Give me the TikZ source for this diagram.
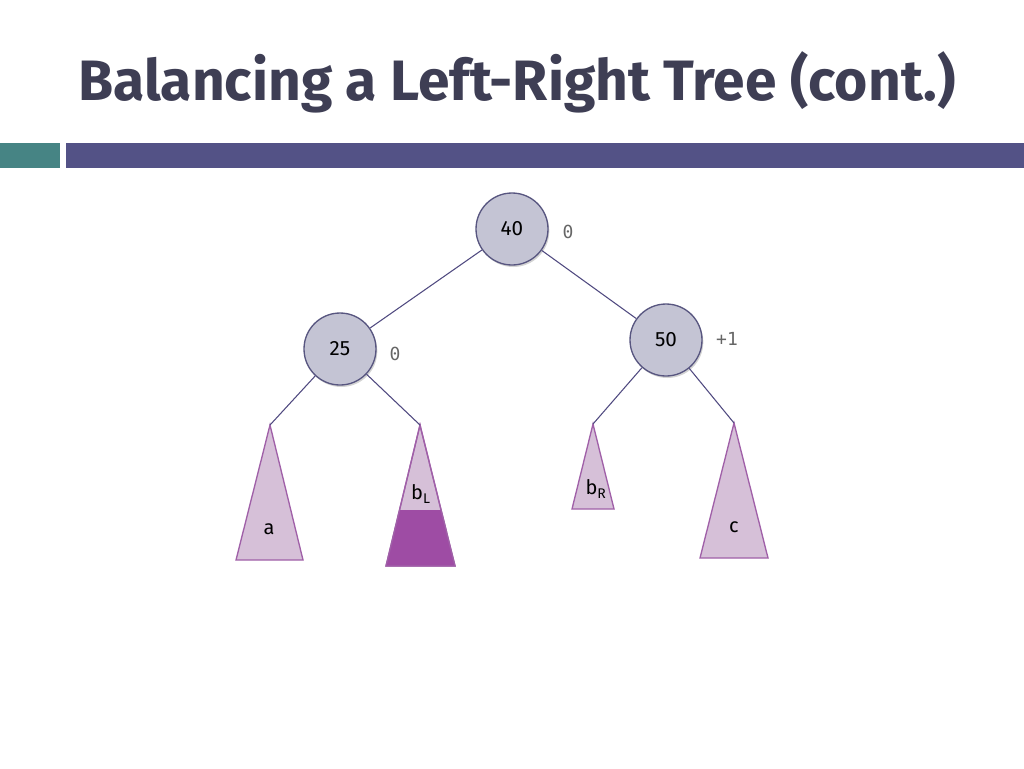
\documentclass[tikz,border=0pt]{standalone}
\usepackage{fontspec}
\setmainfont{Fira Sans}
\newfontfamily\balfont{DejaVu Sans Mono}
\usetikzlibrary{shadows}

\definecolor{titlegray}{RGB}{62,62,84}
\definecolor{barteal}{RGB}{70,132,132}
\definecolor{barpurple}{RGB}{83,82,134}
\definecolor{circfill}{RGB}{196,196,212}
\definecolor{circline}{RGB}{88,86,128}
\definecolor{edgeline}{RGB}{80,74,128}
\definecolor{trifill}{RGB}{214,192,216}
\definecolor{triline}{RGB}{160,96,168}
\definecolor{tridark}{RGB}{158,76,164}

\tikzset{every picture/.style={line width=0.75pt}}
\tikzset{
  keynode/.style={circle, draw=circline, fill=circfill, line width=1pt, minimum size=54pt, inner sep=0pt,
    drop shadow={shadow xshift=1pt, shadow yshift=-1.5pt, opacity=0.35}, font=\fontsize{15.5}{18}\selectfont},
  balance/.style={inner sep=0.75pt, text=black!60, font=\balfont\fontsize{13.5}{16}\selectfont},
  subtree/.style={draw=triline, fill=trifill, line width=1pt},
  treelabel/.style={inner sep=0.75pt, font=\fontsize{15}{18}\selectfont},
  edge/.style={draw=edgeline, line width=0.8pt}
}

\begin{document}
\begin{tikzpicture}[x=0.75pt,y=0.75pt,yscale=-1,xscale=1]
\useasboundingbox (0,0) rectangle (1024,768);

% Title
\node [text=titlegray, font=\bfseries\fontsize{42.7}{50}\selectfont, inner sep=0pt] (title) at (517,82) {Balancing a Left-Right Tree (cont.)};
% Bars
\fill [barteal] (0,143) rectangle (60,168);
\fill [barpurple] (66,143) rectangle (1024,168);

% Subtrees (apex coordinates)
\coordinate (apexa) at (270,425);
\coordinate (apexbl) at (420,425);
\coordinate (apexbr) at (593,424);
\coordinate (apexc) at (734,423);

\draw [subtree] (apexa) -- (303,560) -- (236,560) -- cycle;
\draw [subtree] (apexbl) -- (455,566) -- (386,566) -- cycle;
\fill [tridark] (399.5,510) -- (441.1,510) -- (455,566) -- (386,566) -- cycle;
\draw [triline, line width=1pt] (apexbl) -- (455,566) -- (386,566) -- cycle;
\draw [subtree] (apexbr) -- (614,509) -- (572,509) -- cycle;
\draw [subtree] (apexc) -- (768,558) -- (700,558) -- cycle;

% Keys
\node [keynode] (n40) at (512,229) {40};
\node [keynode] (n25) at (340,349) {25};
\node [keynode] (n50) at (666,340) {50};

% Edges
\draw [edge] (n40) -- (n25);
\draw [edge] (n40) -- (n50);
\draw [edge] (n25) -- (apexa);
\draw [edge] (n25) -- (apexbl);
\draw [edge] (n50) -- (apexbr);
\draw [edge] (n50) -- (apexc);

% Balance factors
\node [balance] (bal40) at (568,232) {0};
\node [balance] (bal25) at (395,354) {0};
\node [balance] (bal50) at (727,339) {+1};

% Subtree labels
\node [treelabel] (la) at (269,529) {a};
\node [treelabel] (lbl) at (421,494) {b\textsubscript{L}};
\node [treelabel] (lbr) at (596,489) {b\textsubscript{R}};
\node [treelabel] (lc) at (734,527) {c};

\end{tikzpicture}
\end{document}
